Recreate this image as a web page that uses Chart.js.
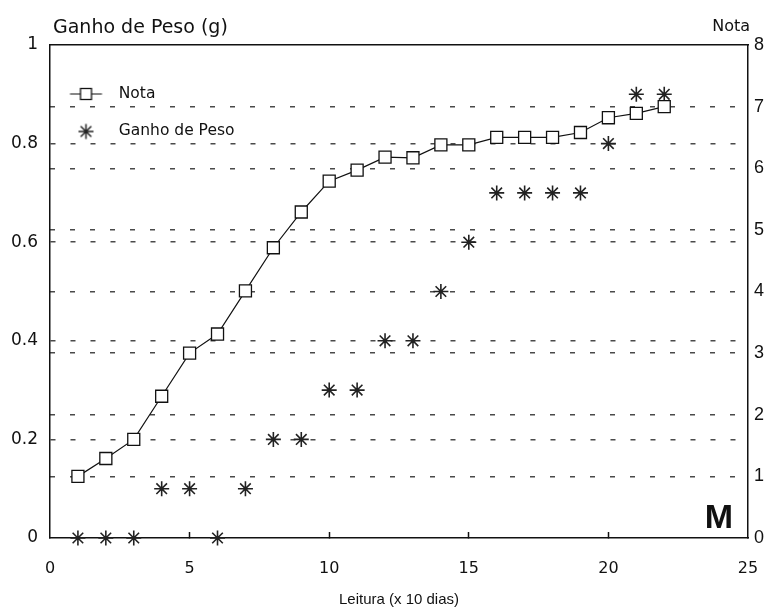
<!DOCTYPE html>
<html>
<head>
<meta charset="utf-8">
<script src="https://cdn.jsdelivr.net/npm/chart.js@4/dist/chart.umd.min.js"></script>
<style>
html, body { margin: 0; padding: 0; background: #fff; }
#wrap { width: 771px; height: 607px; }
</style>
</head>
<body>
<div id="wrap"><canvas id="chart" width="771" height="607"></canvas></div>
<script>
// Leitura (x 10 dias)
const leituras = [1, 2, 3, 4, 5, 6, 7, 8, 9, 10, 11, 12, 13, 14, 15, 16, 17, 18, 19, 20, 21, 22];
// Nota (eixo da direita, 0-8)
const nota = [1.0, 1.29, 1.6, 2.3, 3.0, 3.31, 4.01, 4.71, 5.29, 5.79, 5.97, 6.18, 6.17, 6.38, 6.38, 6.5, 6.5, 6.5, 6.58, 6.82, 6.89, 7.0];
// Ganho de Peso (g) (eixo da esquerda, 0-1)
const ganhoPeso = [0, 0, 0, 0.1, 0.1, 0, 0.1, 0.2, 0.2, 0.3, 0.3, 0.4, 0.4, 0.5, 0.6, 0.7, 0.7, 0.7, 0.7, 0.8, 0.9, 0.9];

const tituloEsq = 'Ganho de Peso (g)';
const tituloDir = 'Nota';
const tituloX = 'Leitura (x 10 dias)';
const painel = 'M';

const preto = '#111';
const tracejado = '#4a4a4a';

// little icons for the legend (line with square, asterisk)
function iconeNota() {
    const c = document.createElement('canvas');
    c.width = 60; c.height = 20;
    const g = c.getContext('2d');
    g.strokeStyle = preto;
    g.lineWidth = 1.2;
    g.beginPath(); g.moveTo(8.5, 10); g.lineTo(40.5, 10); g.stroke();
    g.fillStyle = '#fff';
    g.fillRect(19, 4.5, 11, 11);
    g.lineWidth = 1.3;
    g.strokeRect(19, 4.5, 11, 11);
    return c;
}
function iconeGanho() {
    const c = document.createElement('canvas');
    c.width = 60; c.height = 20;
    const g = c.getContext('2d');
    g.strokeStyle = '#222';
    g.lineWidth = 1.5;
    const cx = 24.5, cy = 10, r = 7.5;
    g.beginPath();
    for (let k = 0; k < 4; k++) {
        const a = k * Math.PI / 4;
        g.moveTo(cx - Math.cos(a) * r, cy - Math.sin(a) * r);
        g.lineTo(cx + Math.cos(a) * r, cy + Math.sin(a) * r);
    }
    g.stroke();
    return c;
}
const icones = [iconeNota(), iconeGanho()];

const textos = {
    id: 'textos',
    afterDraw(chart) {
        const ctx = chart.ctx;
        const a = chart.chartArea;
        ctx.save();
        ctx.fillStyle = preto;
        ctx.textBaseline = 'middle';
        ctx.textAlign = 'left';
        ctx.font = '19px "DejaVu Sans"';
        ctx.fillText(tituloEsq, a.left + 3, 28);
        ctx.font = '16px "DejaVu Sans"';
        ctx.textAlign = 'right';
        ctx.fillText(tituloDir, a.right + 2, 27);
        ctx.font = 'bold 34px "Liberation Sans"';
        ctx.textAlign = 'center';
        ctx.textBaseline = 'alphabetic';
        ctx.fillText(painel, a.right - 29, a.bottom - 10);
        ctx.restore();
    }
};

function gradeCor(lo, hi, cor) {
    return function(c) {
        if (!c.tick) return 'transparent';
        const v = c.tick.value;
        return (v > lo + 1e-6 && v < hi - 1e-6) ? cor : 'transparent';
    };
}

new Chart(document.getElementById('chart').getContext('2d'), {
    type: 'line',
    data: {
        datasets: [
            {
                label: 'Nota',
                data: leituras.map((x, i) => ({ x: x, y: nota[i] })),
                xAxisID: 'x',
                yAxisID: 'y1',
                borderColor: preto,
                borderWidth: 1.2,
                pointStyle: 'rect',
                pointRadius: 8.5,
                pointBackgroundColor: '#fff',
                pointBorderColor: preto,
                pointBorderWidth: 1.3,
                tension: 0,
                clip: false
            },
            {
                label: 'Ganho de Peso',
                data: leituras.map((x, i) => ({ x: x, y: ganhoPeso[i] })),
                xAxisID: 'x',
                yAxisID: 'y',
                showLine: false,
                borderColor: '#222',
                pointStyle: 'star',
                pointRadius: 7.5,
                pointBorderColor: '#222',
                pointBorderWidth: 1.6,
                clip: false
            }
        ]
    },
    options: {
        responsive: false,
        animation: false,
        events: [],
        layout: { padding: { top: 45, left: 0, right: 0, bottom: 0 } },
        plugins: {
            tooltip: { enabled: false },
            legend: {
                position: 'chartArea',
                align: 'start',
                title: { display: true, text: ' ', font: { size: 1 }, padding: { top: 63, bottom: 0 } },
                labels: {
                    usePointStyle: true,
                    pointStyleWidth: 39,
                    padding: 22,
                    color: preto,
                    font: { family: 'DejaVu Sans', size: 15.5 },
                    generateLabels(chart) {
                        return chart.data.datasets.map((ds, i) => ({
                            text: ds.label,
                            pointStyle: icones[i],
                            fillStyle: 'transparent',
                            strokeStyle: 'transparent',
                            lineWidth: 0,
                            hidden: false,
                            datasetIndex: i,
                            fontColor: preto
                        }));
                    }
                }
            }
        },
        scales: {
            x: {
                type: 'linear',
                position: 'bottom',
                min: 0,
                max: 25,
                afterFit(s) { s.height = 69; s.paddingLeft = 0; s.paddingRight = 0; },
                ticks: { stepSize: 5, padding: 27, color: preto, font: { family: 'DejaVu Sans', size: 16 }, maxRotation: 0 },
                grid: {
                    display: true,
                    drawOnChartArea: false,
                    drawTicks: true,
                    tickLength: -6,
                    tickWidth: 1.5,
                    color: gradeCor(0, 25, preto)
                },
                border: { display: true, color: preto, width: 1.5 },
                title: {
                    display: true,
                    text: tituloX,
                    color: preto,
                    font: { family: 'Liberation Sans', size: 15 },
                    padding: { top: 0, bottom: -2 }
                }
            },
            xTop: {
                type: 'linear',
                axis: 'x',
                position: 'top',
                min: 0,
                max: 25,
                afterFit(s) { s.height = 0; s.paddingLeft = 0; s.paddingRight = 0; },
                ticks: { display: false },
                grid: { display: false, drawTicks: false },
                border: { display: true, color: preto, width: 1.5 }
            },
            y: {
                type: 'linear',
                position: 'left',
                min: 0,
                max: 1,
                afterFit(s) { s.width = 50; },
                ticks: {
                    stepSize: 0.2, padding: 12, color: preto,
                    font: { family: 'DejaVu Sans', size: 17 },
                    callback: v => String(Math.round(v * 10) / 10)
                },
                grid: { drawTicks: false, color: gradeCor(0, 1, tracejado), lineWidth: 1.5 },
                border: { display: true, color: preto, width: 1.5, dash: [5, 15] }
            },
            y1: {
                type: 'linear',
                position: 'right',
                min: 0,
                max: 8,
                afterFit(s) { s.width = 23; },
                ticks: { stepSize: 1, padding: 6, color: preto, font: { family: 'Liberation Sans', size: 18 } },
                grid: { drawTicks: false, color: gradeCor(0, 8, tracejado), lineWidth: 1.5 },
                border: { display: true, color: preto, width: 1.5, dash: [5, 15] }
            }
        }
    },
    plugins: [textos]
});
</script>
</body>
</html>
